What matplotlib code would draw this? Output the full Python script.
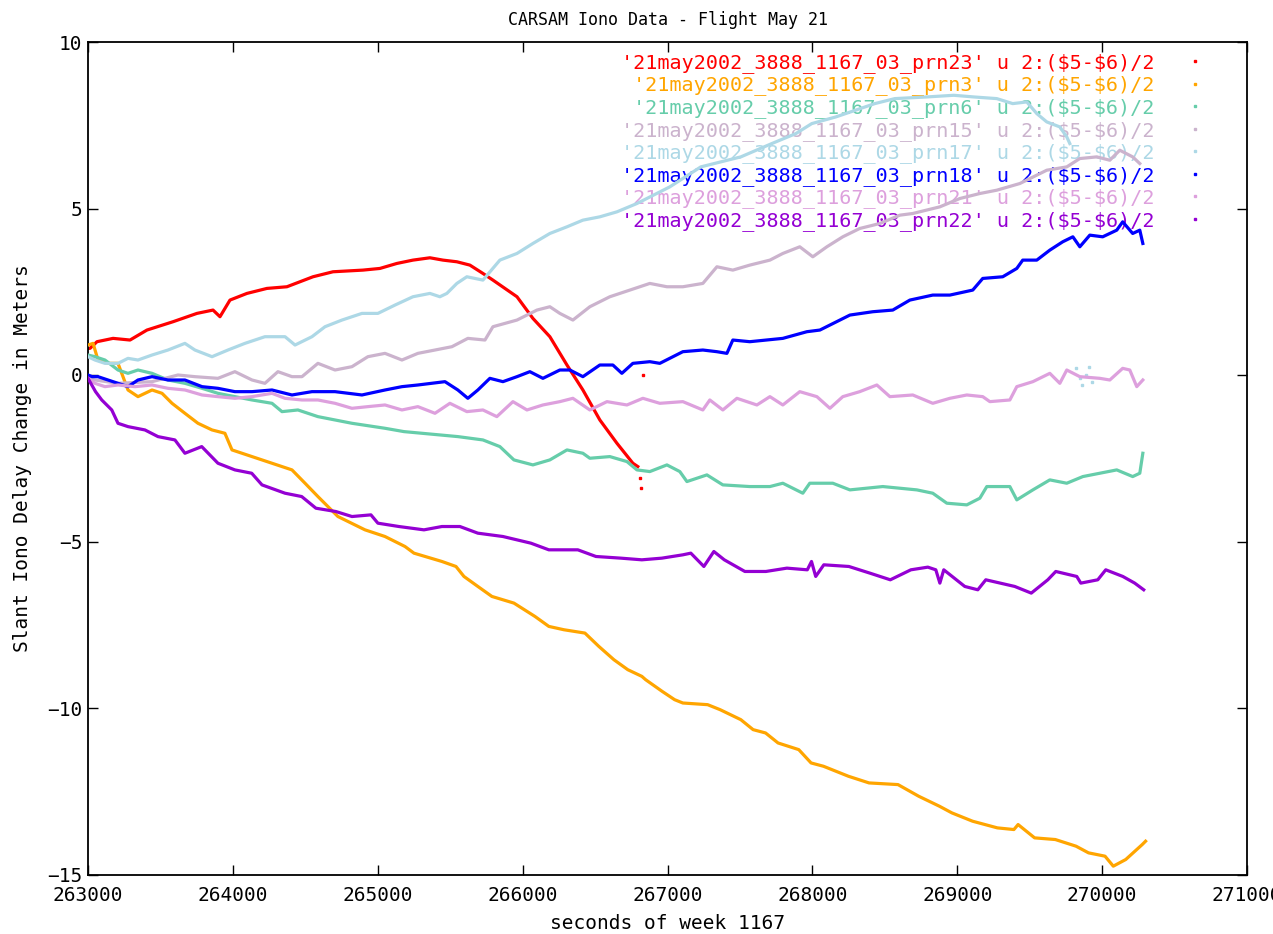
import matplotlib
matplotlib.use('Agg')
import matplotlib.pyplot as plt

# ---------------- data (seconds of week, metres) ----------------
prn23_x = [263000, 263014, 263062, 263173, 263290, 263407, 263587, 263752, 263863, 263911, 263980,
           264097, 264235, 264373, 264553, 264691, 264898, 265015, 265132, 265243, 265360, 265450,
           265546, 265636, 265726, 265795, 265961, 266071, 266188, 266306, 266416, 266533, 266651,
           266761, 266795]
prn23_y = [0.8, 0.8, 1.0, 1.1, 1.05, 1.35, 1.6, 1.85, 1.95, 1.75, 2.25,
           2.45, 2.6, 2.65, 2.95, 3.1, 3.15, 3.2, 3.35, 3.45, 3.52, 3.45,
           3.4, 3.3, 3.05, 2.85, 2.35, 1.7, 1.15, 0.3, -0.45, -1.35, -2.05,
           -2.65, -2.75]
prn23_stray_x = [266810, 266815, 266830]
prn23_stray_y = [-3.1, -3.4, 0.0]

prn3_x = [263000, 263035, 263069, 263138, 263207, 263276, 263345, 263442, 263511, 263580, 263669,
          263759, 263856, 263945, 263994, 264132, 264270, 264408, 264498, 264587, 264725, 264912,
          265050, 265188, 265250, 265443, 265540, 265595, 265691, 265788, 265864, 265940, 266085,
          266181, 266285, 266430, 266526, 266630, 266726, 266823, 266849, 266963, 267049, 267106,
          267277, 267363, 267506, 267591, 267677, 267763, 267906, 267991, 268077, 268249, 268391,
          268591, 268734, 268877, 268963, 269106, 269277, 269391, 269420, 269534, 269677, 269820,
          269906, 270020, 270077, 270163, 270277, 270300]
prn3_y = [0.9, 0.95, 0.45, 0.35, 0.35, -0.45, -0.65, -0.45, -0.55, -0.85, -1.15,
          -1.45, -1.65, -1.75, -2.25, -2.45, -2.65, -2.85, -3.25, -3.65, -4.25, -4.65,
          -4.85, -5.15, -5.35, -5.6, -5.75, -6.05, -6.35, -6.65, -6.75, -6.85, -7.25,
          -7.55, -7.65, -7.75, -8.15, -8.55, -8.85, -9.05, -9.15, -9.5, -9.75, -9.85,
          -9.9, -10.05, -10.35, -10.65, -10.75, -11.05, -11.25, -11.65, -11.75, -12.05, -12.25,
          -12.3, -12.65, -12.95, -13.15, -13.4, -13.6, -13.65, -13.5, -13.9, -13.95, -14.15,
          -14.35, -14.45, -14.75, -14.55, -14.1, -14.0]

prn6_x = [263000, 263048, 263117, 263207, 263276, 263345, 263442, 263552, 263669, 263787, 263897,
          264014, 264132, 264270, 264339, 264449, 264587, 264822, 265050, 265181, 265429, 265553,
          265726, 265843, 265940, 266071, 266188, 266306, 266416, 266464, 266602, 266720, 266789,
          266878, 266996, 267085, 267134, 267272, 267382, 267568, 267707, 267796, 267934, 267982,
          268141, 268259, 268486, 268721, 268831, 268928, 269066, 269156, 269204, 269363, 269411,
          269522, 269639, 269756, 269867, 269984, 270101, 270211, 270260, 270281]
prn6_y = [0.6, 0.55, 0.45, 0.15, 0.05, 0.15, 0.05, -0.15, -0.25, -0.4, -0.55,
          -0.65, -0.75, -0.85, -1.1, -1.05, -1.25, -1.45, -1.6, -1.7, -1.8, -1.85,
          -1.95, -2.15, -2.55, -2.7, -2.55, -2.25, -2.35, -2.5, -2.45, -2.6, -2.85,
          -2.9, -2.7, -2.9, -3.2, -3.0, -3.3, -3.35, -3.35, -3.25, -3.55, -3.25,
          -3.25, -3.45, -3.35, -3.45, -3.55, -3.85, -3.9, -3.7, -3.35, -3.35, -3.75,
          -3.45, -3.15, -3.25, -3.05, -2.95, -2.85, -3.05, -2.95, -2.35]

prn15_x = [263000, 263048, 263207, 263442, 263621, 263738, 263897, 264014, 264132, 264221, 264311,
           264408, 264477, 264587, 264705, 264822, 264932, 265050, 265167, 265277, 265395, 265512,
           265622, 265740, 265795, 265961, 266099, 266188, 266257, 266347, 266464, 266602, 266740,
           266878, 266996, 267106, 267244, 267341, 267451, 267568, 267707, 267796, 267913, 268003,
           268100, 268210, 268327, 268466, 268604, 268693, 268880, 269018, 269156, 269273, 269432,
           269618, 269756, 269846, 269963, 270053, 270122, 270211, 270260]
prn15_y = [-0.1, -0.15, -0.25, -0.2, 0.0, -0.05, -0.1, 0.1, -0.15, -0.25, 0.1,
           -0.05, -0.05, 0.35, 0.15, 0.25, 0.55, 0.65, 0.45, 0.65, 0.75, 0.85,
           1.1, 1.05, 1.45, 1.65, 1.95, 2.05, 1.85, 1.65, 2.05, 2.35, 2.55,
           2.75, 2.65, 2.65, 2.75, 3.25, 3.15, 3.3, 3.45, 3.65, 3.85, 3.55,
           3.85, 4.15, 4.4, 4.55, 4.8, 4.85, 5.05, 5.3, 5.45, 5.55, 5.75,
           6.15, 6.25, 6.5, 6.55, 6.45, 6.75, 6.55, 6.35]

prn17_x = [263000, 263048, 263117, 263207, 263276, 263345, 263442, 263552, 263669, 263738, 263856,
           263966, 264083, 264221, 264360, 264429, 264546, 264636, 264753, 264891, 265001, 265119,
           265243, 265360, 265429, 265477, 265546, 265615, 265726, 265843, 265961, 266071, 266188,
           266306, 266416, 266533, 266651, 266789, 267016, 267230, 267506, 267720, 267886, 267996,
           268162, 268431, 268569, 268790, 268976, 269114, 269273, 269383, 269480, 269549, 269618,
           269708, 269756, 269777]
prn17_y = [0.55, 0.45, 0.35, 0.35, 0.5, 0.45, 0.6, 0.75, 0.95, 0.75, 0.55,
           0.75, 0.95, 1.15, 1.15, 0.9, 1.15, 1.45, 1.65, 1.85, 1.85, 2.1,
           2.35, 2.45, 2.35, 2.45, 2.75, 2.95, 2.85, 3.45, 3.65, 3.95, 4.25,
           4.45, 4.65, 4.75, 4.9, 5.15, 5.65, 6.25, 6.55, 6.95, 7.25, 7.55,
           7.75, 8.15, 8.3, 8.35, 8.4, 8.35, 8.3, 8.15, 8.2, 7.85, 7.6,
           7.45, 7.15, 6.95]
prn17_stray_x = [269820, 269845, 269860, 269890, 269910, 269930]
prn17_stray_y = [0.2, -0.1, -0.3, 0.0, 0.25, -0.2]

prn18_x = [263000, 263028, 263069, 263138, 263207, 263276, 263345, 263442, 263552, 263669, 263787,
           263897, 264014, 264132, 264270, 264408, 264546, 264705, 264891, 265050, 265167, 265277,
           265464, 265553, 265622, 265691, 265774, 265864, 265961, 266050, 266140, 266257, 266326,
           266416, 266533, 266623, 266685, 266761, 266878, 266947, 267106, 267244, 267341, 267410,
           267451, 267568, 267796, 267962, 268052, 268259, 268417, 268555, 268673, 268831, 268949,
           269107, 269176, 269314, 269411, 269452, 269549, 269639, 269728, 269798, 269846, 269915,
           270004, 270101, 270142, 270211, 270260, 270281]
prn18_y = [0.0, -0.05, -0.05, -0.15, -0.25, -0.35, -0.15, -0.05, -0.15, -0.15, -0.35,
           -0.4, -0.5, -0.5, -0.45, -0.6, -0.5, -0.5, -0.6, -0.45, -0.35, -0.3,
           -0.2, -0.45, -0.7, -0.45, -0.1, -0.2, -0.05, 0.1, -0.1, 0.15, 0.15,
           -0.05, 0.3, 0.3, 0.05, 0.35, 0.4, 0.35, 0.7, 0.75, 0.7, 0.65,
           1.05, 1.0, 1.1, 1.3, 1.35, 1.8, 1.9, 1.95, 2.25, 2.4, 2.4,
           2.55, 2.9, 2.95, 3.2, 3.45, 3.45, 3.75, 4.0, 4.15, 3.85, 4.2,
           4.15, 4.35, 4.6, 4.25, 4.35, 3.95]

prn21_x = [263000, 263048, 263117, 263207, 263324, 263442, 263552, 263669, 263787, 263897, 264014,
           264132, 264270, 264360, 264477, 264587, 264705, 264822, 264932, 265050, 265167, 265277,
           265395, 265498, 265615, 265726, 265822, 265933, 266030, 266140, 266257, 266347, 266464,
           266582, 266720, 266830, 266947, 267106, 267244, 267292, 267382, 267479, 267617, 267707,
           267796, 267913, 268031, 268121, 268210, 268327, 268445, 268535, 268693, 268831, 268949,
           269066, 269176, 269225, 269363, 269411, 269522, 269639, 269708, 269756, 269846, 269984,
           270053, 270142, 270191, 270239, 270281]
prn21_y = [-0.1, -0.25, -0.35, -0.3, -0.35, -0.3, -0.4, -0.45, -0.6, -0.65, -0.7,
           -0.65, -0.55, -0.7, -0.75, -0.75, -0.85, -1.0, -0.95, -0.9, -1.05, -0.95,
           -1.15, -0.85, -1.1, -1.05, -1.25, -0.8, -1.05, -0.9, -0.8, -0.7, -1.05,
           -0.8, -0.9, -0.7, -0.85, -0.8, -1.05, -0.75, -1.05, -0.7, -0.9, -0.65,
           -0.9, -0.5, -0.65, -1.0, -0.65, -0.5, -0.3, -0.65, -0.6, -0.85, -0.7,
           -0.6, -0.65, -0.8, -0.75, -0.35, -0.2, 0.05, -0.25, 0.15, -0.05, -0.1,
           -0.15, 0.2, 0.15, -0.35, -0.15]

prn22_x = [263000, 263052, 263095, 263164, 263207, 263276, 263393, 263483, 263600, 263669, 263785,
           263897, 264014, 264130, 264201, 264360, 264475, 264573, 264711, 264822, 264953, 265001,
           265146, 265319, 265443, 265567, 265691, 265864, 266057, 266181, 266381, 266506, 266678,
           266823, 266961, 267106, 267161, 267251, 267320, 267392, 267534, 267679, 267824, 267965,
           267994, 268023, 268079, 268252, 268397, 268538, 268680, 268797, 268852, 268880, 268907,
           269052, 269142, 269197, 269397, 269511, 269625, 269680, 269825, 269853, 269970, 270025,
           270143, 270225, 270287]
prn22_y = [-0.1, -0.5, -0.75, -1.05, -1.45, -1.55, -1.65, -1.85, -1.95, -2.35, -2.15,
           -2.65, -2.85, -2.95, -3.3, -3.55, -3.65, -4.0, -4.1, -4.25, -4.2, -4.45,
           -4.55, -4.65, -4.55, -4.55, -4.75, -4.85, -5.05, -5.25, -5.25, -5.45, -5.5,
           -5.55, -5.5, -5.4, -5.35, -5.75, -5.3, -5.55, -5.9, -5.9, -5.8, -5.85,
           -5.6, -6.05, -5.7, -5.75, -5.95, -6.15, -5.85, -5.77, -5.85, -6.25, -5.85,
           -6.35, -6.45, -6.15, -6.35, -6.55, -6.15, -5.9, -6.05, -6.25, -6.15, -5.85,
           -6.05, -6.25, -6.45]

series_names = ['prn23', 'prn3', 'prn6', 'prn15', 'prn17', 'prn18', 'prn21', 'prn22']
series_colors = ['#ff0000', '#ffa500', '#66cdaa', '#cbb3cd', '#add8e6', '#0000ff', '#dda0dd', '#9400d3']
series_data = [(prn23_x, prn23_y), (prn3_x, prn3_y), (prn6_x, prn6_y), (prn15_x, prn15_y),
               (prn17_x, prn17_y), (prn18_x, prn18_y), (prn21_x, prn21_y), (prn22_x, prn22_y)]

x_ticks = [263000, 264000, 265000, 266000, 267000, 268000, 269000, 270000, 271000]
y_ticks = [-15, -10, -5, 0, 5, 10]

# ---------------- figure ----------------
MONO = 'DejaVu Sans Mono'
fig = plt.figure(figsize=(12.73, 9.34), dpi=100)
ax = fig.add_axes([88 / 1273, 1 - 874.5 / 934, 1159 / 1273, 832.5 / 934])

handles = []
for i, (name, col, (xs, ys)) in enumerate(zip(series_names, series_colors, series_data)):
    ax.plot(xs, ys, color=col, lw=2.3, zorder=2 + i)
    h, = ax.plot([], [], ls='none', marker='s', ms=1.6, color=col)
    h.set_label("'21may2002_3888_1167_03_%s' u 2:(\\$5-\\$6)/2" % name)
    handles.append(h)

ax.plot(prn23_stray_x, prn23_stray_y, ls='none', marker='s', ms=1.8, color='#ff0000', zorder=2)
ax.plot(prn17_stray_x, prn17_stray_y, ls='none', marker='s', ms=1.8, color='#add8e6', zorder=6)

ax.set_xlim(263000, 271000)
ax.set_ylim(-15, 10)
ax.set_xticks(x_ticks)
ax.set_yticks(y_ticks)
ax.set_xticklabels([str(v) for v in x_ticks])
ax.tick_params(axis='both', direction='in', length=7, width=1.0, top=True, right=True,
               labelsize=14, colors='black')
ax.tick_params(axis='x', pad=8.5)
ax.tick_params(axis='y', pad=4)
for lab in ax.get_xticklabels() + ax.get_yticklabels():
    lab.set_family(MONO)
for sp in ax.spines.values():
    sp.set_linewidth(1.3)

ax.set_title('CARSAM Iono Data - Flight May 21', family=MONO, fontsize=12, pad=12)
ax.set_xlabel('seconds of week 1167', family=MONO, fontsize=14)
ax.set_ylabel('Slant Iono Delay Change in Meters', family=MONO, fontsize=14)
ax.xaxis.set_label_coords(0.5, -0.047)
ax.yaxis.set_label_coords(-0.048, 0.5)

leg = ax.legend(handles=handles, loc='upper right', bbox_to_anchor=((1205 - 88) / 1159, (874.5 - 53) / 832.5),
                frameon=False, markerfirst=False, handlelength=1.0, handletextpad=1.5,
                borderpad=0, borderaxespad=0, labelspacing=0.13,
                prop={'family': MONO, 'size': 14.5})
for t, c in zip(leg.get_texts(), series_colors):
    t.set_color(c)
leg.set_zorder(1)

fig.savefig('out.png', dpi=100)
